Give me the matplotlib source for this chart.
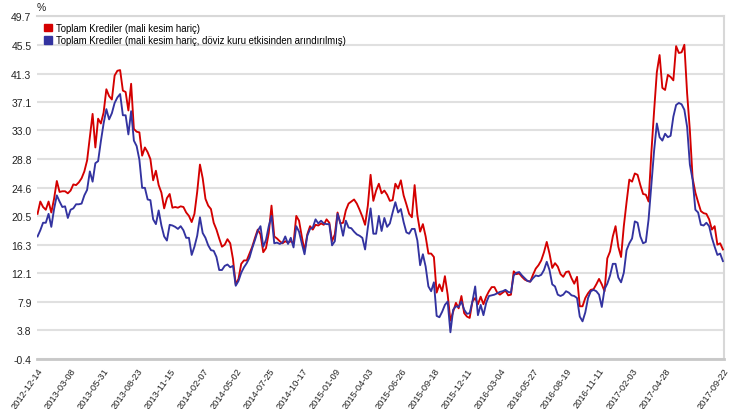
import matplotlib
matplotlib.use("Agg")
import matplotlib.pyplot as plt
from matplotlib.patches import Patch
import numpy as np
import pandas as pd

plt.rcParams['font.family'] = ['Liberation Sans', 'DejaVu Sans']

# weekly data, 2012-12-14 .. 2017-09-22
start_date = '2012-12-14'

red_vals = [
    20.8, 22.6, 21.8, 21.4, 22.6, 21.0, 23.0, 25.6, 24.0, 24.1,
    24.1, 23.8, 24.2, 25.1, 25.0, 25.4, 26.0, 27.0, 28.6, 32.0,
    35.4, 30.5, 34.7, 34.0, 35.6, 39.0, 38.0, 37.5, 41.0, 41.7,
    41.8, 38.8, 38.6, 35.9, 39.8, 33.2, 32.8, 32.7, 29.3, 30.5,
    29.8, 28.8, 25.7, 27.1, 25.0, 23.9, 21.6, 23.1, 23.7, 21.7,
    21.8, 21.7, 21.9, 21.8, 21.0, 20.5, 19.6, 20.8, 24.0, 28.0,
    26.0, 23.0, 22.0, 21.5, 19.5, 18.5, 17.2, 16.0, 16.3, 17.1,
    16.5, 14.2, 10.5, 11.3, 13.5, 14.0, 14.0, 15.0, 16.0, 17.3,
    18.5, 17.8, 15.2, 15.8, 18.0, 22.0, 17.5, 17.2, 16.8, 16.5,
    16.8, 16.6, 16.8, 16.5, 20.5, 19.8, 17.5, 15.4, 17.8, 19.0,
    18.5, 19.2, 19.1, 19.4, 19.2, 20.0, 19.5, 16.8, 17.8, 21.0,
    19.4, 19.5, 21.3, 22.3, 22.6, 22.9, 22.3, 21.4, 20.4, 19.2,
    22.0, 26.5, 22.7, 24.2, 25.2, 23.8, 24.2, 23.6, 22.7, 22.8,
    25.2, 24.5, 25.7, 23.5, 22.2, 20.8, 20.3, 25.0, 20.6, 18.2,
    19.3, 17.5, 15.0, 15.0, 14.5, 9.3, 10.5, 9.5, 11.7, 9.0,
    5.2, 6.5, 7.8, 7.0, 8.8, 6.3, 5.8, 5.6, 8.0, 8.5,
    7.6, 8.7, 7.6, 8.7, 9.5, 10.1, 10.1, 9.3, 9.0, 9.3,
    9.6, 8.9, 9.0, 12.4, 12.0, 12.1, 11.6, 11.2, 11.0, 10.9,
    11.9, 12.8, 13.3, 14.0, 15.2, 16.7, 15.0, 12.9, 13.6, 13.1,
    12.0, 11.6, 12.3, 12.4, 11.4, 10.6, 11.6, 7.3, 7.3, 8.5,
    9.2, 9.7, 9.8, 10.5, 11.3, 10.5, 9.5, 14.3, 15.3, 17.5,
    19.0, 16.0, 14.5, 19.0, 22.5, 25.8, 25.5, 26.7, 26.5, 25.0,
    23.7, 23.6, 22.6, 29.7, 35.8, 41.5, 44.0, 39.2, 38.9, 41.1,
    40.8, 40.3, 45.3, 44.3, 44.4, 45.5, 38.4, 33.0, 26.0, 23.9,
    22.5, 21.2, 20.9, 20.8, 20.0, 18.5, 19.0, 16.3, 16.5, 15.6,
]

blue_vals = [
    17.5, 18.4, 19.5, 19.5, 20.8, 18.9, 21.5, 23.5, 22.6, 21.8,
    21.9, 20.2, 21.4, 21.6, 22.2, 22.2, 22.3, 23.5, 24.3, 27.0,
    25.5, 28.2, 28.5, 31.4, 34.0, 36.1, 34.6, 35.5, 37.0, 37.8,
    38.3, 35.2, 35.2, 32.4, 35.8, 31.5, 30.7, 28.7, 24.6, 24.6,
    22.9, 22.8, 20.0, 19.3, 21.3, 19.1, 17.5, 16.9, 19.2, 19.1,
    18.9, 18.6, 19.0, 18.4, 17.3, 17.3, 14.8, 16.0, 17.6, 20.3,
    18.0, 17.3, 16.2, 15.5, 15.4, 14.5, 12.6, 12.6, 13.2, 13.4,
    13.0, 13.2, 10.3, 11.0, 12.2, 13.0, 13.6, 14.4, 15.8, 17.0,
    18.3, 19.0, 16.0, 17.0, 19.0, 20.5, 16.5, 16.6, 16.4, 16.6,
    17.5, 16.4, 17.3, 15.9, 19.0, 18.2, 16.5, 14.9, 17.6, 18.6,
    18.8, 20.0, 19.4, 19.8, 19.4, 19.3, 19.3, 16.2, 16.8, 20.8,
    19.5, 17.6, 19.8, 18.8, 18.7, 18.2, 17.8, 17.6, 17.3, 15.6,
    18.8, 21.6, 17.9, 17.9, 20.5, 18.3, 20.2, 18.9, 19.4, 21.0,
    22.5, 21.0, 21.5, 19.6, 18.1, 17.9, 18.6, 18.6, 16.9, 13.3,
    14.9, 13.1, 10.2, 9.5, 10.8, 5.9, 5.7, 6.5, 7.5, 8.0,
    3.5, 6.8, 7.3, 7.2, 8.0, 6.8, 6.2, 6.3, 8.0, 10.2,
    6.0, 7.5, 6.0, 7.8, 8.8, 8.9, 9.0, 9.2, 9.4, 9.5,
    9.7, 9.4, 9.3, 11.8, 12.2, 12.3, 11.8, 11.4, 11.0, 10.9,
    11.4, 11.8, 11.7, 11.9, 12.6, 13.8, 12.6, 10.5, 10.2, 9.0,
    8.8, 9.0, 9.5, 9.3, 8.9, 8.8, 8.5, 5.8, 5.1, 6.4,
    8.5, 9.5, 9.7, 9.5, 9.0, 7.2, 9.8, 10.6, 11.8, 13.5,
    13.5, 11.5, 10.8, 12.2, 15.5, 16.5, 17.2, 19.7, 19.5, 17.5,
    16.5, 16.7, 20.0, 25.0, 30.0, 34.0, 32.0, 31.5, 32.5, 32.0,
    32.2, 35.0, 36.7, 37.0, 36.8, 36.0, 33.5, 28.0, 25.8, 21.4,
    21.0, 19.2, 19.1, 19.5, 19.0, 17.3, 16.0, 14.8, 15.0, 13.9,
]

labels = ['Toplam Krediler (mali kesim hariç)',
          'Toplam Krediler (mali kesim hariç, döviz kuru etkisinden arındırılmış)']
y_ticks = [-0.4, 3.8, 7.9, 12.1, 16.3, 20.5, 24.6, 28.8, 33.0, 37.1, 41.3, 45.5, 49.7]

dates = pd.date_range(start_date, periods=len(red_vals), freq='7D')
x = np.arange(len(dates))

red_c = '#d40000'
blue_c = '#3333a0'

fig = plt.figure(figsize=(7.41, 4.10), dpi=100)
ax = fig.add_axes([37/741, 1 - 360/410, (724-37)/741, (360-17)/410])

ax.plot(x, red_vals, color=red_c, lw=1.35, zorder=3)
ax.plot(x, blue_vals, color=blue_c, lw=1.35, zorder=3)

ax.set_ylim(-0.4, 49.7)
ax.set_xlim(-0.2, len(x) - 0.6)
ax.set_yticks(y_ticks)
ax.set_yticklabels(['%.1f' % v for v in y_ticks])
ax.yaxis.grid(True, color='#e0e0e0', lw=1.5)
ax.set_axisbelow(True)

tick_idx = list(range(0, 229, 12)) + [len(x) - 1]
ax.set_xticks(tick_idx)
ax.set_xticklabels([dates[i].strftime('%Y-%m-%d') for i in tick_idx],
                   rotation=55, ha='right', va='top', rotation_mode='anchor')

ax.tick_params(axis='both', length=0, colors='#222222')
ax.tick_params(axis='y', labelsize=7.5, pad=4)
ax.tick_params(axis='x', labelsize=6.7, pad=5)
for s in ['top', 'right']:
    ax.spines[s].set_color('#d8d8d8')
    ax.spines[s].set_linewidth(1.5)
ax.spines['left'].set_visible(False)
ax.spines['bottom'].set_color('#c8c8c8')
ax.spines['bottom'].set_linewidth(2)

handles = [Patch(color=red_c), Patch(color=blue_c)]
ax.legend(handles, labels, loc='upper left', bbox_to_anchor=(0.01, 0.98),
          frameon=False, fontsize=6.9, handlelength=0.8, handleheight=0.8,
          handletextpad=0.5, labelspacing=0.25, borderpad=0, borderaxespad=0)

fig.text(37/741, 1 - 8/410, '%', fontsize=7.5, color='#222222', va='center')

fig.savefig('out.png', dpi=100)
